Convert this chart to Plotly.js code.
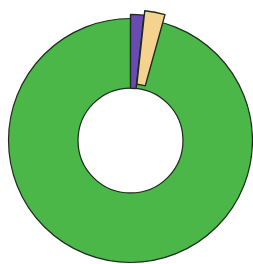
<!DOCTYPE html>
<html>
<head>
<meta charset="utf-8">
<script src="https://cdn.plot.ly/plotly-3.0.1.min.js"></script>
<style>
html,body{margin:0;padding:0;overflow:hidden;background:#fff;}
#chart{width:272px;height:272px;}
</style>
</head>
<body>
<div id="chart"></div>
<script>
var labels = ["Purple", "Tan", "Green"];
var values = [1.7, 2.6, 95.7];
var colors = ["#6a4bb4", "#f5d38f", "#4bb748"];
var pulls = [0, 0.035, 0];

var lineColor = "#1e2a1e";

// base ring: the green slice drawn as a full ring underneath
var baseTrace = {
  type: "pie",
  labels: ["Ring"],
  values: [values[0] + values[1] + values[2]],
  hole: 0.43,
  sort: false,
  direction: "clockwise",
  rotation: 0,
  textinfo: "none",
  hoverinfo: "none",
  domain: {x: [0.0326, 0.9674], y: [0, 1]},
  marker: {colors: [colors[2]], line: {color: lineColor, width: 1.2}}
};

// small slices drawn on top, slightly larger and offset
var sliceTrace = {
  type: "pie",
  labels: labels,
  values: values,
  hole: 0.414,
  sort: false,
  direction: "clockwise",
  rotation: 0,
  pull: pulls,
  textinfo: "none",
  hoverinfo: "none",
  domain: {x: [0, 1], y: [0, 1]},
  marker: {
    colors: [colors[0], colors[1], "rgba(0,0,0,0)"],
    line: {color: lineColor, width: [1.4, 1.4, 0]}
  }
};

Plotly.newPlot("chart", [baseTrace, sliceTrace], {
  width: 272,
  height: 272,
  margin: {l: 0, r: 11, t: 9, b: 0},
  showlegend: false,
  paper_bgcolor: "#ffffff",
  plot_bgcolor: "#ffffff"
}, {staticPlot: true, displayModeBar: false});
</script>
</body>
</html>
